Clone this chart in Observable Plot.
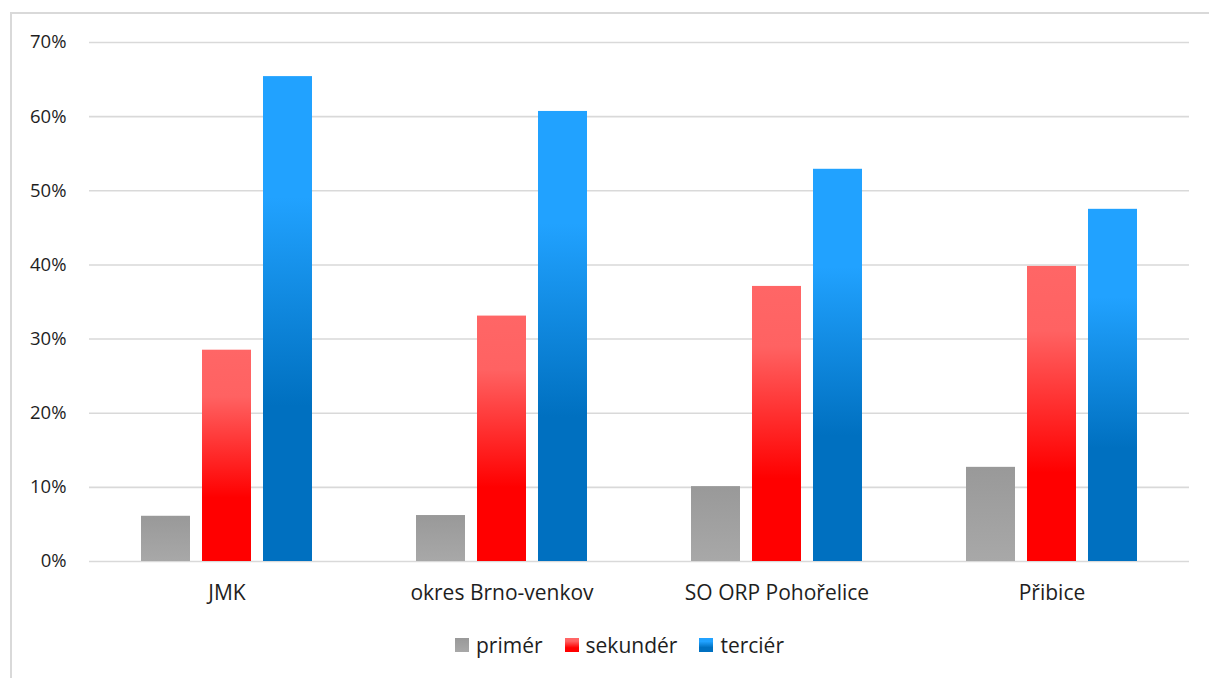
<!DOCTYPE html>
<html>
<head>
<meta charset="utf-8">
<script src="https://cdn.jsdelivr.net/npm/d3@7"></script>
<script src="https://cdn.jsdelivr.net/npm/@observablehq/plot@0.6"></script>
<style>
  html, body { margin: 0; padding: 0; background: #fff; width: 1209px; height: 678px; overflow: hidden; }
  #frame { position: absolute; left: 10px; top: 12px; width: 1300px; height: 800px; border: 2px solid #d9d9d9; box-sizing: border-box; }
  #chart { position: absolute; left: 0; top: 0; }
  #legend { position: absolute; left: 15px; width: 1209px; top: 631px; display: flex; justify-content: center; font-family: "Open Sans", sans-serif; font-size: 21px; color: #1e1e1e; }
  #legend .item { display: flex; align-items: center; margin: 0 11px; }
  #legend .sw { width: 14px; height: 14px; margin-right: 7px; }
</style>
</head>
<body>
<div id="frame"></div>
<div id="chart"></div>
<div id="legend"></div>
<script>
const categories = ["JMK", "okres Brno-venkov", "SO ORP Pohořelice", "Přibice"];
const series = ["primér", "sekundér", "terciér"];
const primer = [0.061, 0.062, 0.101, 0.127];
const sekunder = [0.285, 0.331, 0.371, 0.398];
const tercier = [0.654, 0.607, 0.529, 0.475];
const yTicks = [0, 0.1, 0.2, 0.3, 0.4, 0.5, 0.6, 0.7];

const seriesValues = [primer, sekunder, tercier];
const data = categories.flatMap((c, i) =>
  series.map((s, j) => ({category: c, series: s, value: seriesValues[j][i]}))
);

const gradients = [
  {id: "g0", stops: [[0, "#999999"], [1, "#a8a8a8"]]},
  {id: "g1", stops: [[0, "#ff6666"], [0.22, "#ff6262"], [0.7, "#ff0000"], [1, "#ff0000"]]},
  {id: "g2", stops: [[0, "#21a2ff"], [0.25, "#21a2ff"], [0.68, "#0070c0"], [1, "#0070c0"]]}
];

const svg = Plot.plot({
  width: 1209,
  height: 620,
  marginLeft: 88,
  marginRight: 19,
  marginTop: 42,
  marginBottom: 59,
  style: {fontFamily: "Open Sans, sans-serif", fontSize: "18px", color: "#1e1e1e", background: "transparent"},
  fx: {domain: categories, padding: 0, label: null},
  x: {domain: series, paddingInner: 0.203, paddingOuter: 0.8415, axis: null},
  y: {domain: [0, 0.7], label: null},
  color: {domain: series, range: gradients.map(g => `url(#${g.id})`)},
  marks: [
    Plot.gridY(yTicks, {stroke: "#d9d9d9", strokeOpacity: 1, strokeWidth: 1.6}),
    Plot.axisY(yTicks, {tickSize: 0, tickPadding: 23, tickFormat: d => `${Math.round(d * 100)}%`, label: null, fontSize: 18.5}),
    Plot.axisFx({anchor: "bottom", tickSize: 0, tickPadding: 24, label: null, fontSize: 21}),
    Plot.barY(data, {fx: "category", x: "series", y: "value", fill: "series"})
  ]
});

const defs = d3.select(svg).insert("defs", ":first-child");
for (const g of gradients) {
  const lg = defs.append("linearGradient").attr("id", g.id)
    .attr("x1", 0).attr("y1", 0).attr("x2", 0).attr("y2", 1);
  for (const [o, c] of g.stops) lg.append("stop").attr("offset", o).attr("stop-color", c);
}
document.getElementById("chart").appendChild(svg);

const legend = d3.select("#legend");
series.forEach((s, i) => {
  const item = legend.append("div").attr("class", "item");
  const st = gradients[i].stops.map(([o, c]) => `${c} ${o * 100}%`).join(", ");
  item.append("div").attr("class", "sw").style("background", `linear-gradient(to bottom, ${st})`);
  item.append("span").text(s);
});
</script>
</body>
</html>
